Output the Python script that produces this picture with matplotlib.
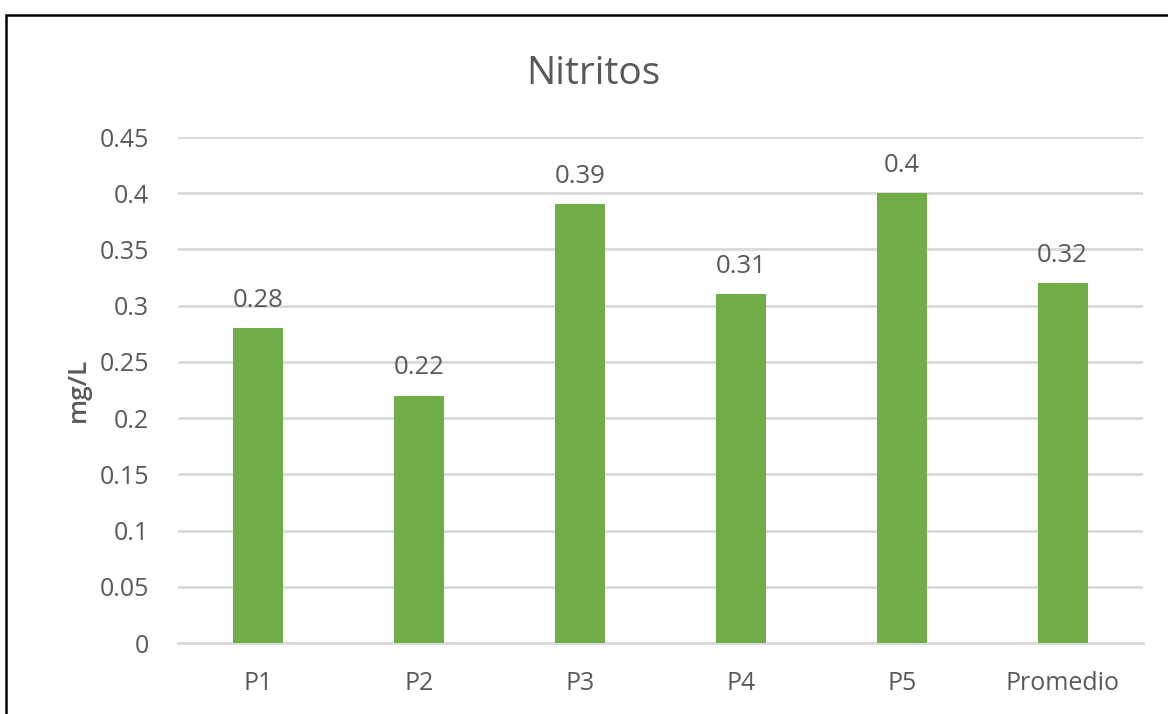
import matplotlib.pyplot as plt
from matplotlib.patches import Rectangle

plt.rcParams["font.family"] = ["Open Sans", "DejaVu Sans"]

categories = ["P1", "P2", "P3", "P4", "P5", "Promedio"]
values = [0.28, 0.22, 0.39, 0.31, 0.40, 0.32]
value_labels = ["0.28", "0.22", "0.39", "0.31", "0.4", "0.32"]
yticks = [0, 0.05, 0.1, 0.15, 0.2, 0.25, 0.3, 0.35, 0.4, 0.45]
ytick_labels = ["0", "0.05", "0.1", "0.15", "0.2", "0.25", "0.3", "0.35", "0.4", "0.45"]

GREEN = "#70AD47"
TEXT = "#595959"
GRID = "#D9D9D9"

fig = plt.figure(figsize=(11.68, 7.14), dpi=100)
ax = fig.add_axes([0.1524, 0.0994, 0.8262, 0.7087])

x = range(len(categories))
bars = ax.bar(x, values, width=0.31, color=GREEN, zorder=3)

for bar, lab in zip(bars, value_labels):
    ax.annotate(lab, (bar.get_x() + bar.get_width() / 2, bar.get_height()),
                xytext=(0, 11), textcoords="offset points",
                ha="center", va="bottom", fontsize=18.5, color=TEXT)

ax.set_xlim(-0.5, len(categories) - 0.5)
ax.set_ylim(0, 0.45)
ax.set_yticks(yticks)
ax.set_yticklabels(ytick_labels)
ax.set_xticks(list(x))
ax.set_xticklabels(categories)
ax.tick_params(axis="both", length=0, labelsize=18, labelcolor=TEXT)
ax.tick_params(axis="y", pad=21)
ax.tick_params(axis="x", pad=20)

ax.grid(axis="y", color=GRID, linewidth=2, zorder=0)
for side in ["top", "right", "left"]:
    ax.spines[side].set_visible(False)
ax.spines["bottom"].set_color(GRID)
ax.spines["bottom"].set_linewidth(2)

ax.set_ylabel("mg/L", fontsize=19, color=TEXT, fontweight="semibold", labelpad=6)
fig.text(0.508, 0.897, "Nitritos", ha="center", va="center", fontsize=28, color=TEXT)

# outer frame, open on the right and bottom
fig.patches.append(Rectangle((6 / 1168, -0.1), 1.2, 1 - 15 / 714 + 0.1,
                             transform=fig.transFigure, fill=False,
                             edgecolor="black", linewidth=1.8, clip_on=False))

fig.savefig("out.png", dpi=100)
